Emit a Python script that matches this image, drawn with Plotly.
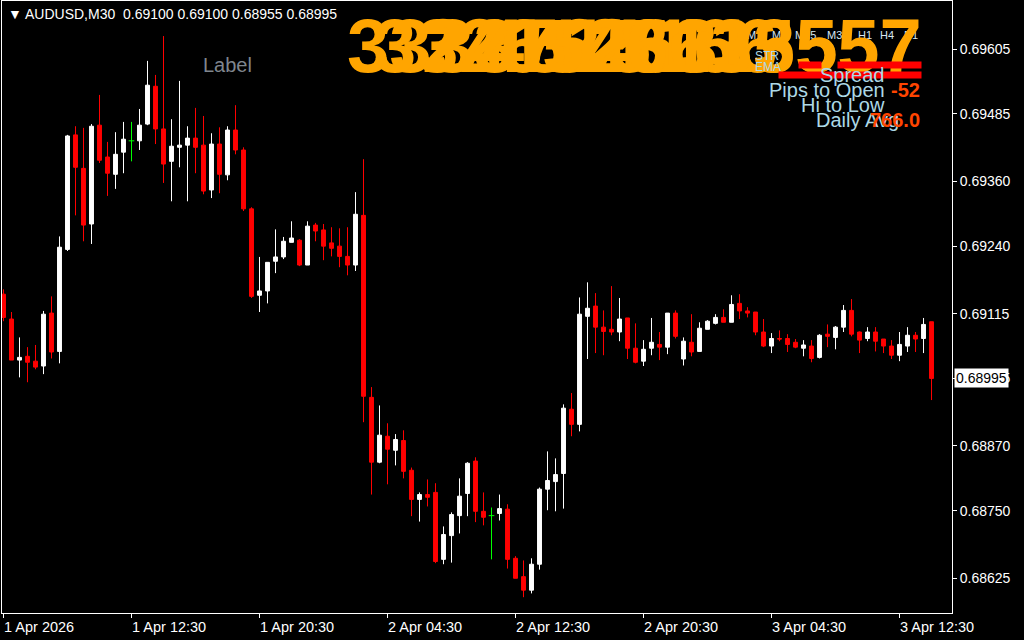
import pandas as pd
import plotly.graph_objects as go

symbol_title = "AUDUSD,M30"
title_prices = ["0.69100", "0.69100", "0.68955", "0.68995"]
start_time = "2026-04-01 04:30"

# M30 bars
opens = [
    0.69151, 0.69105, 0.69029, 0.69036, 0.69027, 0.69018, 0.69116, 0.69045, 0.69234, 0.69446,
    0.69384, 0.69281, 0.69464, 0.69405, 0.69373, 0.69414, 0.69435, 0.69435, 0.69466, 0.69536,
    0.69457, 0.69397, 0.69423, 0.69427, 0.69440, 0.69427, 0.69344, 0.69429, 0.69372, 0.69455,
    0.69418, 0.69309, 0.69149, 0.69157, 0.69212, 0.69220, 0.69247, 0.69251, 0.69205, 0.69279,
    0.69270, 0.69246, 0.69240, 0.69221, 0.69205, 0.69297, 0.68960, 0.68840, 0.68888, 0.68862,
    0.68880, 0.68825, 0.68771, 0.68780, 0.68784, 0.68660, 0.68704, 0.68741, 0.68782, 0.68842,
    0.68749, 0.68741, 0.68745, 0.68753, 0.68662, 0.68628, 0.68603, 0.68651, 0.68790, 0.68804,
    0.68819, 0.68938, 0.68910, 0.69110, 0.69129, 0.69090, 0.69086, 0.69081, 0.69107, 0.69051,
    0.69027, 0.69051, 0.69058, 0.69053, 0.69116, 0.69031, 0.69062, 0.69045, 0.69086, 0.69097,
    0.69108, 0.69099, 0.69134, 0.69120, 0.69118, 0.69081, 0.69055, 0.69069, 0.69069, 0.69062,
    0.69051, 0.69055, 0.69034, 0.69077, 0.69071, 0.69090, 0.69121, 0.69081, 0.69069, 0.69081,
    0.69068, 0.69055, 0.69038, 0.69055, 0.69075, 0.69069, 0.69100,
]
highs = [
    0.69160, 0.69118, 0.69071, 0.69053, 0.69057, 0.69120, 0.69147, 0.69258, 0.69446, 0.69462,
    0.69459, 0.69466, 0.69520, 0.69433, 0.69451, 0.69470, 0.69470, 0.69494, 0.69583, 0.69557,
    0.69629, 0.69475, 0.69546, 0.69462, 0.69496, 0.69481, 0.69449, 0.69460, 0.69462, 0.69501,
    0.69423, 0.69312, 0.69220, 0.69210, 0.69271, 0.69257, 0.69286, 0.69253, 0.69286, 0.69283,
    0.69281, 0.69275, 0.69273, 0.69275, 0.69340, 0.69401, 0.68979, 0.68945, 0.68912, 0.68892,
    0.68899, 0.68830, 0.68784, 0.68808, 0.68801, 0.68721, 0.68747, 0.68810, 0.68840, 0.68849,
    0.68784, 0.68756, 0.68780, 0.68762, 0.68666, 0.68658, 0.68662, 0.68793, 0.68860, 0.68847,
    0.68947, 0.68968, 0.69145, 0.69173, 0.69153, 0.69121, 0.69166, 0.69144, 0.69107, 0.69097,
    0.69066, 0.69107, 0.69081, 0.69116, 0.69121, 0.69071, 0.69114, 0.69099, 0.69103, 0.69114,
    0.69123, 0.69149, 0.69151, 0.69127, 0.69118, 0.69105, 0.69079, 0.69084, 0.69077, 0.69068,
    0.69066, 0.69066, 0.69077, 0.69095, 0.69092, 0.69131, 0.69142, 0.69082, 0.69090, 0.69090,
    0.69068, 0.69066, 0.69081, 0.69090, 0.69081, 0.69107, 0.69100,
]
lows = [
    0.69101, 0.69029, 0.68997, 0.68988, 0.69012, 0.69003, 0.69032, 0.69023, 0.69231, 0.69297,
    0.69249, 0.69244, 0.69394, 0.69333, 0.69346, 0.69375, 0.69397, 0.69418, 0.69464, 0.69429,
    0.69357, 0.69323, 0.69386, 0.69323, 0.69375, 0.69336, 0.69329, 0.69338, 0.69362, 0.69410,
    0.69305, 0.69144, 0.69118, 0.69134, 0.69190, 0.69216, 0.69247, 0.69203, 0.69205, 0.69249,
    0.69214, 0.69221, 0.69201, 0.69186, 0.69194, 0.68914, 0.68780, 0.68838, 0.68799, 0.68834,
    0.68810, 0.68740, 0.68730, 0.68758, 0.68653, 0.68651, 0.68654, 0.68708, 0.68740, 0.68729,
    0.68723, 0.68660, 0.68732, 0.68643, 0.68625, 0.68590, 0.68597, 0.68641, 0.68751, 0.68749,
    0.68754, 0.68888, 0.68897, 0.69031, 0.69042, 0.69038, 0.69075, 0.69064, 0.69031, 0.69023,
    0.69018, 0.69038, 0.69029, 0.69040, 0.69069, 0.69019, 0.69036, 0.69045, 0.69086, 0.69095,
    0.69099, 0.69099, 0.69105, 0.69108, 0.69075, 0.69053, 0.69042, 0.69064, 0.69044, 0.69051,
    0.69036, 0.69025, 0.69032, 0.69053, 0.69049, 0.69081, 0.69073, 0.69042, 0.69064, 0.69045,
    0.69042, 0.69031, 0.69027, 0.69044, 0.69044, 0.69042, 0.68955,
]
closes = [
    0.69108, 0.69029, 0.69034, 0.69025, 0.69016, 0.69114, 0.69044, 0.69238, 0.69444, 0.69386,
    0.69279, 0.69462, 0.69399, 0.69375, 0.69410, 0.69438, 0.69435, 0.69464, 0.69538, 0.69457,
    0.69392, 0.69425, 0.69427, 0.69440, 0.69423, 0.69342, 0.69429, 0.69373, 0.69455, 0.69418,
    0.69309, 0.69147, 0.69157, 0.69210, 0.69220, 0.69249, 0.69255, 0.69205, 0.69277, 0.69268,
    0.69240, 0.69236, 0.69221, 0.69205, 0.69299, 0.68962, 0.68840, 0.68890, 0.68864, 0.68882,
    0.68823, 0.68771, 0.68780, 0.68775, 0.68656, 0.68706, 0.68743, 0.68777, 0.68838, 0.68749,
    0.68738, 0.68741, 0.68754, 0.68660, 0.68625, 0.68603, 0.68651, 0.68790, 0.68806, 0.68817,
    0.68940, 0.68910, 0.69114, 0.69125, 0.69090, 0.69082, 0.69081, 0.69105, 0.69051, 0.69025,
    0.69049, 0.69062, 0.69053, 0.69116, 0.69073, 0.69064, 0.69044, 0.69088, 0.69101, 0.69108,
    0.69099, 0.69132, 0.69120, 0.69116, 0.69081, 0.69055, 0.69069, 0.69068, 0.69058, 0.69053,
    0.69057, 0.69032, 0.69075, 0.69073, 0.69090, 0.69121, 0.69077, 0.69066, 0.69081, 0.69064,
    0.69055, 0.69038, 0.69058, 0.69075, 0.69068, 0.69095, 0.68995,
]

x_tick_index = [0, 16, 32, 48, 64, 80, 96, 112]
x_tick_labels = ["1 Apr 2026", "1 Apr 12:30", "1 Apr 20:30", "2 Apr 04:30",
                 "2 Apr 12:30", "2 Apr 20:30", "3 Apr 04:30", "3 Apr 12:30"]
y_tick_vals = [0.69605, 0.69485, 0.69360, 0.69240, 0.69115, 0.68995, 0.68870, 0.68750, 0.68625]
bid_price = 0.68995

# indicator overlay texts
timeframes = ["M1", "M5", "M15", "M30", "H1", "H4", "D1"]
timeframe_x = [745, 770, 793, 825, 856, 878, 902]
overlay_digits = ["3333724", "3326145", "2415263", "4515166", "5236135", "6135557"]
overlay_x = [345, 372, 420, 480, 540, 624]
info_labels = ["Spread", "Pips to Open", "Hi to Low", "Daily Avg"]
info_label_right = [887, 887, 887, 901]
info_values = ["", "-52", "", "766.0"]
info_y = [75, 90, 105, 120]

FONT = "Liberation Sans"
BULL, BEAR, DOJI = "#ffffff", "#ff0000", "#00ff00"
ORANGE, INFO_BLUE, VALUE_RED = "#ffa500", "#add8e6", "#ff4500"

# plot area in pixels: x 2..952, y 1..613
def px(x):
    return (x - 2) / 950

def py(y):
    return 1 - (y - 1) / 612


def label(x, y, text, size, color, xanchor="left", **kw):
    return dict(x=px(x), y=py(y), xref="paper", yref="paper", xanchor=xanchor,
                yanchor="middle", text=text, showarrow=False,
                font=dict(family=FONT, size=size, color=color, **kw))


times = pd.date_range(start_time, periods=len(opens), freq="30min")
bar = pd.Timedelta(minutes=30)
is_doji = [o == c for o, c in zip(opens, closes)]


def no_doji(vals):
    return [None if d else v for v, d in zip(vals, is_doji)]


fig = go.Figure()
fig.add_trace(go.Candlestick(
    x=times, open=no_doji(opens), high=no_doji(highs), low=no_doji(lows), close=no_doji(closes),
    increasing=dict(line=dict(color=BULL, width=1), fillcolor=BULL),
    decreasing=dict(line=dict(color=BEAR, width=1), fillcolor=BEAR),
    whiskerwidth=0, showlegend=False,
))

# doji bars are drawn green like MT4 does
dx, dy = [], []
for i, d in enumerate(is_doji):
    if d:
        t = times[i]
        dx += [t, t, None, t - bar * 0.35, t + bar * 0.35, None]
        dy += [lows[i], highs[i], None, opens[i], opens[i], None]
fig.add_trace(go.Scatter(x=dx, y=dy, mode="lines", line=dict(color=DOJI, width=1),
                         showlegend=False, hoverinfo="skip"))

ann = []
ann.append(label(6, 14, "▼ " + symbol_title + "\u00a0\u00a0" + " ".join(title_prices), 14, "white"))
# time labels, left aligned on the tick like MT4
for i, lab in zip(x_tick_index, x_tick_labels):
    ann.append(dict(x=times[i], y=0, xref="x", yref="paper", xanchor="left", yanchor="top",
                    yshift=-4, xshift=-2, text=lab, showarrow=False,
                    font=dict(family=FONT, size=14.5, color="white")))
# bid price box
ann.append(dict(x=px(954), y=bid_price, xref="paper", yref="y", xanchor="left", yanchor="middle",
                text="{:.5f}".format(bid_price), bgcolor="white", borderpad=1, showarrow=False,
                font=dict(family=FONT, size=14, color="black")))
ann.append(label(227, 65, "Label", 20, "#7f868e", xanchor="center"))
for tf, x in zip(timeframes, timeframe_x):
    ann.append(label(x, 35, tf, 11, "#d8e6f2"))
for s, x in zip(overlay_digits, overlay_x):
    ann.append(label(x, 46, s, 76, ORANGE, weight="bold"))
for s, y in zip(["STR", "EMA"], [56, 67]):
    ann.append(label(753, y, s, 12, INFO_BLUE))
# red indicator bars, on top of the orange text
for x0, x1, y0, y1 in [(798, 820, 61, 67), (837, 920, 61, 67), (778, 920, 71, 77)]:
    ann.append(dict(x=px(x0), y=py(y0), xref="paper", yref="paper", xanchor="left", yanchor="top",
                    text="\u00a0", width=x1 - x0, height=y1 - y0, bgcolor=BEAR, borderpad=0,
                    showarrow=False, font=dict(size=4)))
for lab, xr, val, y in zip(info_labels, info_label_right, info_values, info_y):
    ann.append(label(xr, y, lab, 20, INFO_BLUE, xanchor="right"))
    if val:
        ann.append(label(922, y, val, 20, VALUE_RED, xanchor="right", weight="bold"))

t_first = times[0]
fig.update_layout(
    width=1024, height=640,
    margin=dict(l=2, r=72, t=1, b=27),
    paper_bgcolor="black", plot_bgcolor="black",
    showlegend=False,
    annotations=ann,
    xaxis=dict(
        type="date",
        range=[t_first - bar * 0.1875, t_first + bar * 118.56],
        rangeslider=dict(visible=False),
        showgrid=False, zeroline=False,
        showline=True, mirror=True, linecolor="white", linewidth=1,
        tickvals=[times[i] for i in x_tick_index],
        ticks="outside", ticklen=4, tickcolor="white",
        showticklabels=False,
    ),
    yaxis=dict(
        side="right",
        range=[0.685607, 0.696939],
        showgrid=False, zeroline=False,
        showline=True, mirror=True, linecolor="white", linewidth=1,
        tickvals=y_tick_vals,
        ticktext=["{:.5f}".format(v) for v in y_tick_vals],
        ticks="outside", ticklen=4, tickcolor="white",
        tickfont=dict(family=FONT, size=14, color="white"),
    ),
)

fig.write_html("out.html", config={"displayModeBar": False},
               post_script="document.body.style.margin='0';")
